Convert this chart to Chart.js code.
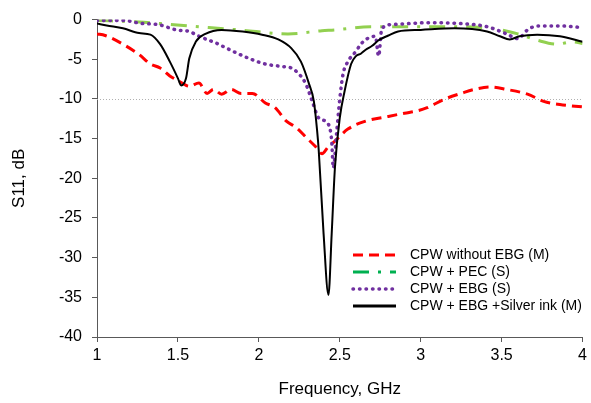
<!DOCTYPE html>
<html>
<head>
<meta charset="utf-8">
<script src="https://cdn.jsdelivr.net/npm/chart.js@4"></script>
<style>
html,body{margin:0;padding:0;background:#fff;}
#wrap{width:591px;height:403px;position:relative;}
</style>
</head>
<body>
<div id="wrap"><canvas id="c" width="591" height="403"></canvas></div>
<script>
// Frequency (GHz) and S11 (dB)
const freqRed = [1.0,1.05,1.16,1.26,1.33,1.39,1.45,1.51,1.57,1.63,1.68,1.72,1.77,1.83,1.89,1.96,2.04,2.10,2.17,2.23,2.30,2.35,2.39,2.43,2.47,2.55,2.66,2.80,2.90,2.98,3.04,3.15,3.25,3.33,3.43,3.53,3.66,3.76,3.86,4.0];
const s11Red  = [-1.8,-2.0,-3.1,-4.4,-5.6,-6.1,-7.1,-7.8,-8.4,-8.0,-9.3,-8.8,-9.4,-8.8,-9.3,-9.3,-10.5,-11.1,-12.8,-13.6,-15.0,-16.0,-16.9,-16.0,-15.3,-13.8,-12.8,-12.2,-11.8,-11.5,-11.1,-10.0,-9.3,-8.8,-8.5,-8.8,-9.4,-10.3,-10.7,-11.0];

const freqPec = [1.0,1.26,1.45,1.69,1.88,2.18,2.39,2.47,2.69,2.94,3.15,3.39,3.60,3.72,3.84,3.94,4.0];
const s11Pec  = [-0.1,-0.3,-0.6,-1.0,-1.3,-1.8,-1.4,-1.3,-0.9,-0.9,-0.9,-1.0,-1.8,-2.6,-3.1,-2.8,-3.0];

const freqEbg = [1.0,1.16,1.28,1.37,1.49,1.57,1.63,1.74,1.82,1.94,2.04,2.14,2.20,2.25,2.29,2.33,2.37,2.43,2.45,2.46,2.48,2.50,2.52,2.55,2.60,2.63,2.67,2.72,2.74,2.76,2.84,3.04,3.25,3.41,3.53,3.60,3.66,3.72,3.86,4.0];
const s11Ebg  = [-0.1,-0.1,-0.5,-0.6,-1.3,-1.5,-2.1,-3.0,-3.8,-4.9,-5.6,-5.9,-6.1,-6.9,-8.1,-10.3,-12.4,-13.2,-15.3,-18.7,-14.4,-10.0,-6.9,-5.3,-4.0,-3.1,-2.4,-2.1,-4.6,-1.1,-0.6,-0.4,-0.5,-0.9,-1.8,-2.4,-1.3,-0.8,-0.8,-1.0];

const freqInk = [1.0,1.06,1.16,1.26,1.33,1.39,1.45,1.50,1.52,1.55,1.57,1.61,1.67,1.77,1.90,2.02,2.12,2.20,2.26,2.31,2.34,2.36,2.37,2.40,2.43,2.45,2.47,2.50,2.53,2.57,2.60,2.63,2.66,2.70,2.74,2.80,2.86,3.00,3.21,3.41,3.49,3.55,3.61,3.72,3.86,4.0];
const s11Ink  = [-0.5,-0.75,-1.1,-1.7,-1.9,-3.1,-5.3,-7.4,-8.3,-7.4,-4.9,-2.8,-1.8,-1.3,-1.5,-1.9,-2.5,-3.6,-5.3,-8.1,-10.3,-14.0,-16.5,-27,-34.7,-27,-18.7,-12.4,-9.0,-5.6,-4.6,-4.3,-3.8,-3.3,-2.6,-2.0,-1.5,-1.3,-1.1,-1.5,-2.1,-2.5,-2.1,-1.9,-2.1,-2.8];

const seriesNames = ["CPW without EBG (M)","CPW + PEC (S)","CPW + EBG (S)","CPW + EBG +Silver ink (M)"];
const xTicks = [1,1.5,2,2.5,3,3.5,4];
const yTicks = [0,-5,-10,-15,-20,-25,-30,-35,-40];

const pts = (xs, ys) => xs.map((x,i)=>({x:x, y:ys[i]}));

const FONT = "'Liberation Sans', Arial, sans-serif";

const legendStyles = [
  {color:'#ff0000', width:3, dash:[10,6], cap:'butt'},
  {color:'#00b050', width:3, dash:[16,9,3,9], cap:'butt'},
  {color:'#7030a0', width:3.5, dash:[0.5,6], cap:'round'},
  {color:'#000000', width:3, dash:[], cap:'butt'}
];

const refLine = {
  id:'refLine',
  beforeDatasetsDraw(chart){
    const ctx = chart.ctx, y = chart.scales.y.getPixelForValue(-10);
    const a = chart.chartArea;
    ctx.save();
    ctx.strokeStyle = '#b0b0b0';
    ctx.lineWidth = 1;
    ctx.setLineDash([1,2]);
    ctx.beginPath();
    ctx.moveTo(a.left, Math.round(y)+0.5);
    ctx.lineTo(a.right, Math.round(y)+0.5);
    ctx.stroke();
    ctx.restore();
  }
};

const customLegend = {
  id:'customLegend',
  afterDraw(chart){
    const ctx = chart.ctx;
    const rows = [255, 272, 289, 306];
    ctx.save();
    ctx.font = "14px " + FONT;
    ctx.textBaseline = 'middle';
    ctx.fillStyle = '#000';
    seriesNames.forEach((name,i)=>{
      const s = legendStyles[i];
      ctx.strokeStyle = s.color;
      ctx.lineWidth = s.width;
      ctx.setLineDash(s.dash);
      ctx.lineCap = s.cap;
      ctx.beginPath();
      ctx.moveTo(353, rows[i]);
      ctx.lineTo(396, rows[i]);
      ctx.stroke();
      ctx.setLineDash([]);
      ctx.fillText(name, 410, rows[i]);
    });
    ctx.restore();
  }
};

new Chart(document.getElementById('c'), {
  type:'line',
  data:{
    datasets:[
      {label:seriesNames[0], data:pts(freqRed,s11Red), borderColor:'#ff0000', borderWidth:3, borderDash:[10,6], pointRadius:0, cubicInterpolationMode:'monotone', order:3},
      {label:seriesNames[1], data:pts(freqPec,s11Pec), borderColor:'#92d050', borderWidth:3, borderDash:[16,9,3,9], pointRadius:0, cubicInterpolationMode:'monotone', order:2},
      {label:seriesNames[2], data:pts(freqEbg,s11Ebg), borderColor:'#7030a0', borderWidth:3.5, borderDash:[0.5,6], borderCapStyle:'round', pointRadius:0, cubicInterpolationMode:'monotone', order:1},
      {label:seriesNames[3], data:pts(freqInk,s11Ink), borderColor:'#000000', borderWidth:2, pointRadius:0, cubicInterpolationMode:'monotone', order:0}
    ]
  },
  options:{
    responsive:false,
    animation:false,
    events:[],
    layout:{padding:{left:5, right:5, top:18, bottom:0}},
    plugins:{legend:{display:false}, tooltip:{enabled:false}},
    scales:{
      x:{
        type:'linear', min:1, max:4,
        afterBuildTicks(s){ s.ticks = xTicks.map(v=>({value:v})); },
        afterFit(s){ s.height = 403 - 337; },
        grid:{drawOnChartArea:false, drawTicks:true, tickLength:5, color:'#595959'},
        border:{display:true, color:'#595959', width:1},
        ticks:{font:{family:FONT, size:16}, color:'#000', padding:4, maxRotation:0,
               callback:(v)=>String(v)},
        title:{display:true, text:'Frequency, GHz', font:{family:FONT, size:17}, color:'#000', padding:{top:4,bottom:3}}
      },
      y:{
        type:'linear', min:-40, max:0,
        afterBuildTicks(s){ s.ticks = yTicks.map(v=>({value:v})); },
        afterFit(s){ s.width = 97 - 5; },
        grid:{drawOnChartArea:false, drawTicks:true, tickLength:5, color:'#595959'},
        border:{display:true, color:'#595959', width:1},
        ticks:{font:{family:FONT, size:16}, color:'#000', padding:10,
               callback:(v)=>String(v)},
        title:{display:true, text:'S11, dB', font:{family:FONT, size:17}, color:'#000', padding:{top:4,bottom:4}}
      }
    }
  },
  plugins:[refLine, customLegend]
});
</script>
</body>
</html>
